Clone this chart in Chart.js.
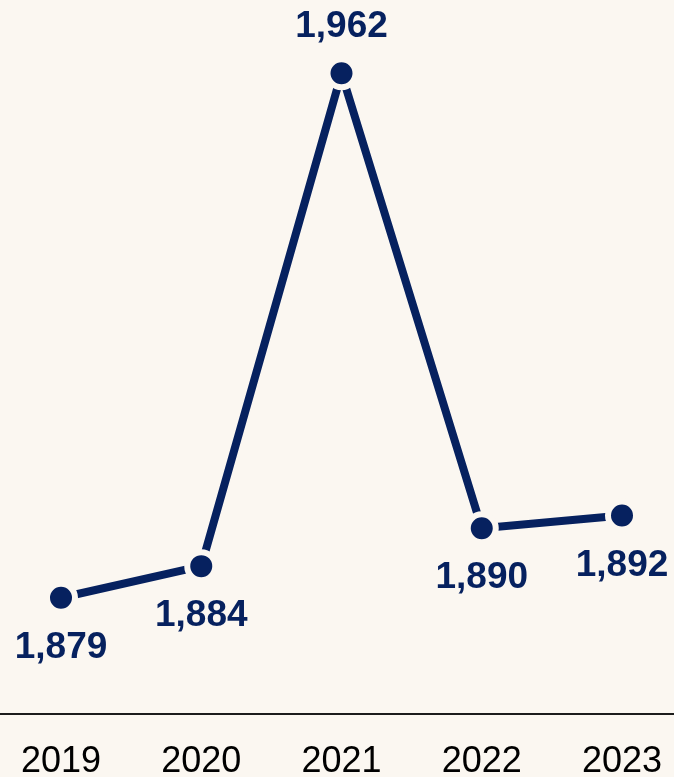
<!DOCTYPE html>
<html>
<head>
<meta charset="utf-8">
<script src="https://cdn.jsdelivr.net/npm/chart.js@4.4.1/dist/chart.umd.min.js"></script>
<style>
  html, body { margin: 0; padding: 0; background: #fbf7f1; }
  #wrap { width: 674px; height: 777px; }
</style>
</head>
<body>
<div id="wrap"><canvas id="chart" width="674" height="777"></canvas></div>
<script>
const years = ["2019", "2020", "2021", "2022", "2023"];
const totals = [1879, 1884, 1962, 1890, 1892];
// which side of the point each value label sits on
const labelSide = ["below", "below", "above", "below", "below"];

const NAVY = "#06215f";
const BG = "#fbf7f1";

// thin rule under the plot, running edge to edge
const baseline = {
  id: "baseline",
  afterDraw(chart) {
    const ctx = chart.ctx;
    const y = chart.scales.x.top;
    ctx.save();
    ctx.strokeStyle = "#1c1c1c";
    ctx.lineWidth = 2;
    ctx.beginPath();
    ctx.moveTo(0, y);
    ctx.lineTo(chart.width, y);
    ctx.stroke();
    ctx.restore();
  },
};

// value labels next to each point
const valueLabels = {
  id: "valueLabels",
  afterDatasetsDraw(chart) {
    const ctx = chart.ctx;
    const meta = chart.getDatasetMeta(0);
    ctx.save();
    ctx.font = "bold 37px 'Liberation Sans', Arial, sans-serif";
    ctx.fillStyle = NAVY;
    ctx.textAlign = "center";
    ctx.textBaseline = "middle";
    meta.data.forEach((pt, i) => {
      const dy = labelSide[i] === "above" ? -46 : 50;
      ctx.fillText(totals[i].toLocaleString("en-US"), pt.x, pt.y + dy);
    });
    ctx.restore();
  },
};

new Chart(document.getElementById("chart"), {
  type: "line",
  data: {
    labels: years,
    datasets: [{
      data: totals,
      borderColor: NAVY,
      borderWidth: 8,
      tension: 0,
      clip: false,
      pointRadius: 14,
      pointHoverRadius: 14,
      pointBackgroundColor: NAVY,
      pointBorderColor: BG,
      pointBorderWidth: 6,
    }],
  },
  options: {
    responsive: false,
    animation: false,
    layout: { autoPadding: false, padding: { left: 61, right: 52, top: 0, bottom: 0 } },
    plugins: { legend: { display: false }, tooltip: { enabled: false } },
    scales: {
      x: {
        offset: false,
        grid: { display: false, drawTicks: false },
        border: { display: false },
        afterFit(scale) {
          scale.height = 63;
          scale.paddingLeft = 0;
          scale.paddingRight = 0;
        },
        ticks: {
          padding: 26,
          color: "#000",
          font: { family: "'Liberation Sans', Arial, sans-serif", size: 36 },
        },
      },
      y: {
        display: false,
        min: 1860.6,
        max: 1973.6,
      },
    },
  },
  plugins: [baseline, valueLabels],
});
</script>
</body>
</html>
